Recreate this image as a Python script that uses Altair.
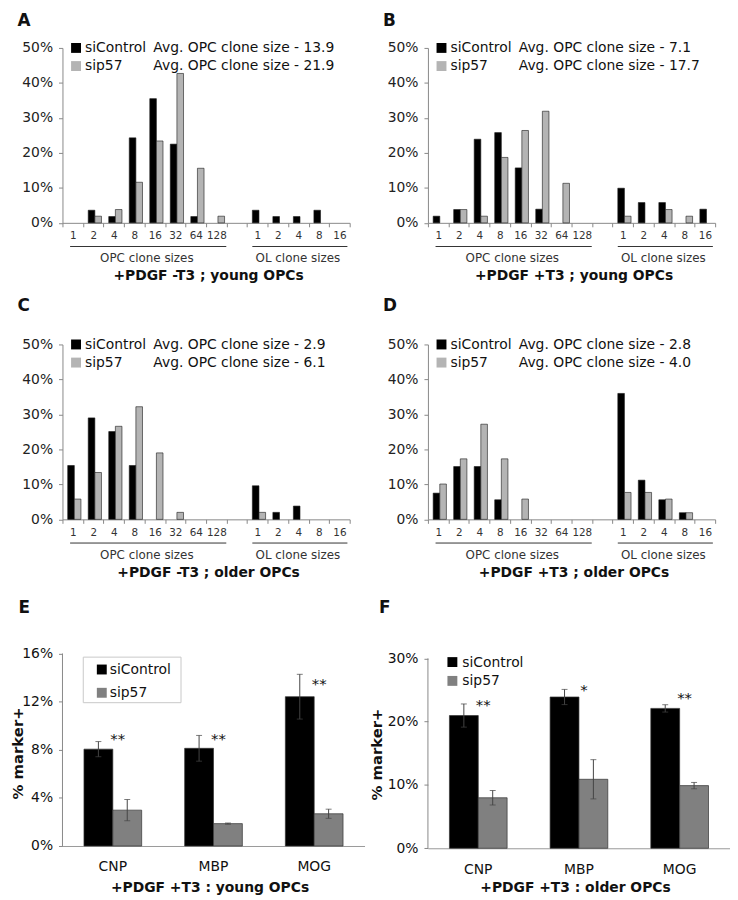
import altair as alt
import pandas as pd

FONT = "DejaVu Sans"

# ---------------- data ----------------
opc_sizes = ["1", "2", "4", "8", "16", "32", "64", "128"]
ol_sizes = ["1", "2", "4", "8", "16"]
series = ["siControl", "sip57"]

# 8 OPC clone-size classes followed by 5 OL clone-size classes (% of clones)
a_sicontrol = [0, 3.6, 1.8, 24.3, 35.5, 22.5, 1.8, 0, 3.6, 1.8, 1.8, 3.6, 0]
a_sip57 = [0, 1.9, 3.8, 11.6, 23.4, 42.7, 15.6, 1.9, 0, 0, 0, 0, 0]
b_sicontrol = [1.9, 3.8, 23.9, 25.8, 15.7, 3.9, 0, 0, 9.9, 5.8, 5.8, 0, 3.9]
b_sip57 = [0, 3.8, 1.9, 18.7, 26.4, 31.9, 11.3, 0, 1.9, 0, 3.8, 1.9, 0]
c_sicontrol = [15.4, 29.0, 25.1, 15.4, 0, 0, 0, 0, 9.6, 2.0, 3.8, 0, 0]
c_sip57 = [5.8, 13.4, 26.6, 32.2, 19.0, 2.0, 0, 0, 2.0, 0, 0, 0, 0]
d_sicontrol = [7.5, 15.1, 15.1, 5.6, 0, 0, 0, 0, 36.0, 11.2, 5.6, 1.9, 0]
d_sip57 = [10.1, 17.3, 27.2, 17.3, 5.8, 0, 0, 0, 7.7, 7.7, 5.8, 1.9, 0]

avg_sicontrol = [13.9, 7.1, 2.9, 2.8]
avg_sip57 = [21.9, 17.7, 6.1, 4.0]
clone_titles = ["+PDGF -T3 ; young OPCs", "+PDGF +T3 ; young OPCs",
                "+PDGF -T3 ; older OPCs", "+PDGF +T3 ; older OPCs"]
panel_letters = ["A", "B", "C", "D", "E", "F"]

markers = ["CNP", "MBP", "MOG"]
e_sicontrol = [8.05, 8.12, 12.41]
e_sicontrol_err = [0.63, 1.07, 1.86]
e_sip57 = [2.98, 1.86, 2.68]
e_sip57_err = [0.88, 0.05, 0.38]
e_stars = ["**", "**", "**"]
e_star_level = [9.2, 9.2, 13.8]

f_sicontrol = [20.97, 23.9, 22.1]
f_sicontrol_err = [1.83, 1.2, 0.58]
f_sip57 = [7.98, 10.9, 9.9]
f_sip57_err = [1.15, 3.1, 0.5]
f_stars = ["**", "*", "**"]
f_star_level = [23.2, 25.7, 24.4]

marker_titles = ["+PDGF +T3 : young OPCs", "+PDGF +T3 : older OPCs"]

# ---------------- helpers ----------------
cat_keys = ["OPC|" + s for s in opc_sizes] + ["GAP|"] + ["OL|" + s for s in ol_sizes]
data_keys = [k for k in cat_keys if k != "GAP|"]

LEG_FS = 14
TICK_FS = 14
TITLE_FS = 14


def one():
    return alt.Data(values=[{"k": 0}])


def text_layer(s, x, y, size=LEG_FS, weight="normal", align="left", baseline="middle",
               color="#111111", angle=None):
    kw = dict(text=s, fontSize=size, fontWeight=weight, align=align,
              baseline=baseline, color=color, font=FONT)
    if angle is not None:
        kw["angle"] = angle
    return alt.Chart(one()).mark_text(**kw).encode(x=alt.value(x), y=alt.value(y))


def rect_layer(x1, x2, y1, y2, fill, stroke=None, sw=1.0, opacity=None):
    kw = dict(fill=fill)
    if stroke is not None:
        kw["stroke"] = stroke
        kw["strokeWidth"] = sw
    if opacity is not None:
        kw["opacity"] = opacity
    return alt.Chart(one()).mark_rect(**kw).encode(
        x=alt.value(x1), x2=alt.value(x2), y=alt.value(y1), y2=alt.value(y2))


def rule_layer(x1, x2, y, color="#333333"):
    return alt.Chart(one()).mark_rule(color=color, strokeWidth=1).encode(
        x=alt.value(x1), x2=alt.value(x2), y=alt.value(y))


W1, H1 = 290, 176.6


def clone_panel(i, sic, sip, letter_y):
    rows = []
    for k, a, b in zip(data_keys, sic, sip):
        rows.append({"cat": k, "series": "siControl", "v": a})
        rows.append({"cat": k, "series": "sip57", "v": b})
    df = pd.DataFrame(rows)
    bars = (
        alt.Chart(df)
        .transform_filter("datum.v > 0")
        .transform_calculate(col="datum.series == 'siControl' ? '#000000' : '#b4b4b4'")
        .mark_bar(stroke="#1a1a1a", strokeWidth=0.6)
        .encode(
            x=alt.X("cat:N",
                    scale=alt.Scale(domain=cat_keys, paddingInner=0, paddingOuter=0),
                    axis=alt.Axis(title=None, labelExpr="split(datum.label, '|')[1]",
                                  labelAngle=0, labelFontSize=10.5, labelColor="#333333",
                                  labelOverlap=False, tickBand="extent", tickSize=4,
                                  tickColor="#888888", domainColor="#888888",
                                  labelPadding=4, labelFont=FONT)),
            xOffset=alt.XOffset("series:N",
                                scale=alt.Scale(domain=series, paddingInner=0,
                                                paddingOuter=0.55, align=0.72)),
            y=alt.Y("v:Q", scale=alt.Scale(domain=[0, 50], nice=False),
                    axis=alt.Axis(title=None, values=[0, 10, 20, 30, 40, 50],
                                  labelExpr="datum.value + '%'", labelFontSize=TICK_FS,
                                  labelColor="#222222", tickSize=4, tickColor="#888888",
                                  domainColor="#888888", labelPadding=6, labelFont=FONT)),
            color=alt.Color("col:N", scale=None),
        )
    )
    layers = [
        bars,
        rect_layer(8.7, 18.7, -5, 5, "#000000"),
        rect_layer(8.7, 18.7, 13.3, 23.3, "#b4b4b4"),
        text_layer("siControl", 22.7, 0.5),
        text_layer("sip57", 22.7, 18.5),
        text_layer("Avg. OPC clone size - %.1f" % avg_sicontrol[i], 91.7, 0.5),
        text_layer("Avg. OPC clone size - %.1f" % avg_sip57[i], 91.7, 18.5),
        rule_layer(7.7, 165.4, 200.5),
        rule_layer(191.7, 287.7, 200.5),
        text_layer("OPC clone sizes", 85.2, 212.5, size=12, align="center", color="#333333"),
        text_layer("OL clone sizes", 237.7, 212.5, size=12, align="center", color="#333333"),
        text_layer(clone_titles[i], 147.5, 230.5, size=TITLE_FS, weight="bold", align="center"),
        text_layer(panel_letters[i], -45.3, letter_y, size=17, weight="bold", baseline="top"),
    ]
    return alt.layer(*layers).properties(width=W1, height=H1)


W2 = 305


def marker_panel(j, sic, sic_err, sip, sip_err, stars, star_level, height, ymax, yticks,
                 leg, ytitle_x, letter_x):
    rows = []
    for m, a, ea, b, eb in zip(markers, sic, sic_err, sip, sip_err):
        rows.append({"marker": m, "series": "siControl", "v": a, "lo": a - ea, "hi": a + ea})
        rows.append({"marker": m, "series": "sip57", "v": b, "lo": b - eb, "hi": b + eb})
    df = pd.DataFrame(rows)
    base = alt.Chart(df)
    xoff = alt.XOffset("series:N", scale=alt.Scale(domain=series, paddingInner=0, paddingOuter=0))
    bars = (
        base.transform_calculate(col="datum.series == 'siControl' ? '#000000' : '#808080'")
        .mark_bar(stroke="#333333", strokeWidth=0.7)
        .encode(
            x=alt.X("marker:N",
                    scale=alt.Scale(domain=markers, paddingInner=0.427, paddingOuter=0.2135),
                    axis=alt.Axis(title=None, labelAngle=0, labelFontSize=TICK_FS,
                                  labelColor="#111111", ticks=False, domainColor="#999999",
                                  labelPadding=14, labelFont=FONT)),
            xOffset=xoff,
            y=alt.Y("v:Q", scale=alt.Scale(domain=[0, ymax], nice=False, zero=True),
                    axis=alt.Axis(title=None, values=yticks, labelExpr="datum.value + '%'",
                                  labelFontSize=TICK_FS, labelColor="#111111", tickSize=4,
                                  tickColor="#888888", domain=False, labelPadding=6,
                                  labelFont=FONT)),
            color=alt.Color("col:N", scale=None),
        )
    )
    err = base.mark_rule(color="#444444", strokeWidth=1).encode(
        x="marker:N", xOffset=xoff, y="lo:Q", y2="hi:Q")
    cap_hi = base.mark_tick(color="#444444", size=6, thickness=1).encode(
        x="marker:N", xOffset=xoff, y="hi:Q")
    cap_lo = base.mark_tick(color="#444444", size=6, thickness=1).encode(
        x="marker:N", xOffset=xoff, y="lo:Q")
    sdf = pd.DataFrame({"marker": markers, "star": stars, "lvl": star_level})
    star_layer = alt.Chart(sdf).mark_text(
        fontSize=15, dx=5, dy=4, baseline="middle", align="center", color="#111111", font=FONT
    ).encode(x="marker:N", y="lvl:Q", text="star:N")
    yaxis = alt.Chart(one()).mark_rule(color="#888888").encode(
        x=alt.value(0), y=alt.datum(0), y2=alt.datum(yticks[-1]))

    layers = [bars, err, cap_hi, cap_lo, star_layer, yaxis]
    if leg["box"]:
        layers.append(rect_layer(21, 119.7, 16.3, 62.3, "#ffffff", stroke="#c8c8c8"))
    if leg.get("anchor"):
        # invisible anchor that fixes the left edge of the whole figure
        layers.append(rect_layer(-54.3, -53.3, 100, 101, "#ffffff", opacity=0))
    sx, sy1, sy2, tx = leg["sx"], leg["y1"], leg["y2"], leg["tx"]
    layers += [
        rect_layer(sx, sx + 10, sy1 - 5, sy1 + 5, "#000000"),
        rect_layer(sx, sx + 10, sy2 - 5, sy2 + 5, "#808080"),
        text_layer("siControl", tx, sy1 + 0.5),
        text_layer("sip57", tx, sy2 + 0.5),
        text_layer("% marker+", ytitle_x, height / 2 + 10, size=15, weight="bold",
                   align="center", angle=270),
        text_layer(marker_titles[j], 149, 249, size=TITLE_FS, weight="bold", align="center"),
        text_layer(panel_letters[4 + j], letter_x, -41.5, size=17, weight="bold",
                   baseline="top"),
    ]
    return alt.layer(*layers).properties(width=W2, height=height)


pA = clone_panel(0, a_sicontrol, a_sip57, -34.7)
pB = clone_panel(1, b_sicontrol, b_sip57, -34.7)
pC = clone_panel(2, c_sicontrol, c_sip57, -46.7)
pD = clone_panel(3, d_sicontrol, d_sip57, -46.7)
pE = marker_panel(0, e_sicontrol, e_sicontrol_err, e_sip57, e_sip57_err, e_stars,
                  e_star_level, 207, 17.04, [0, 4, 8, 12, 16],
                  {"box": True, "sx": 34.7, "y1": 28.8, "y2": 52.3, "tx": 47.7,
                   "anchor": True},
                  -44.5, -44.3)
pF = marker_panel(1, f_sicontrol, f_sicontrol_err, f_sip57, f_sip57_err, f_stars,
                  f_star_level, 209.3, 32.75, [0, 10, 20, 30],
                  {"box": False, "sx": 19.7, "y1": 21.3, "y2": 40.3, "tx": 34.7},
                  -51.5, -49.3)

chart = (
    alt.concat(pA, pB, pC, pD, pE, pF, columns=2,
               spacing={"row": 122.4, "column": 64}, bounds="flush", align="each")
    .resolve_scale(x="independent", y="independent", xOffset="independent")
    .properties(padding=0)
    .configure(font=FONT)
    .configure_view(stroke=None)
    .configure_axis(grid=False)
)

chart.save("out.html", embed_options={"renderer": "svg", "actions": False})
